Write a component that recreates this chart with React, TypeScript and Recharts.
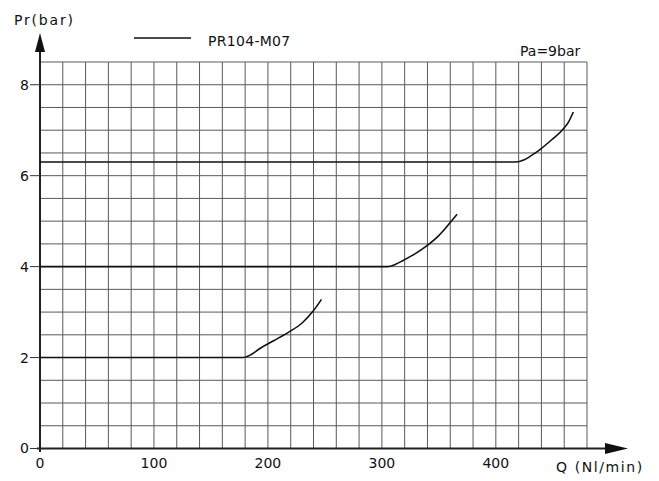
import React from "react";
import { LineChart, Line, XAxis, YAxis, CartesianGrid, Customized } from "recharts";

const xGridTicks = [0, 20, 40, 60, 80, 100, 120, 140, 160, 180, 200, 220, 240, 260, 280, 300, 320, 340, 360, 380, 400, 420, 440, 460, 480];
const xLabels = [0, 100, 200, 300, 400];
const yGridTicks = [0, 0.5, 1, 1.5, 2, 2.5, 3, 3.5, 4, 4.5, 5, 5.5, 6, 6.5, 7, 7.5, 8, 8.5];
const yLabels = [0, 2, 4, 6, 8];

const curve2bar = [
  { q: 0, p: 2 }, { q: 178, p: 2 }, { q: 185, p: 2.06 }, { q: 193, p: 2.2 }, { q: 205, p: 2.37 },
  { q: 219, p: 2.57 }, { q: 230, p: 2.76 }, { q: 239, p: 3.0 }, { q: 247, p: 3.28 },
];
const curve4bar = [
  { q: 0, p: 4 }, { q: 305, p: 4 }, { q: 312, p: 4.05 }, { q: 319, p: 4.14 }, { q: 329, p: 4.28 },
  { q: 339, p: 4.45 }, { q: 349, p: 4.66 }, { q: 358, p: 4.91 }, { q: 366, p: 5.15 },
];
const curve63bar = [
  { q: 0, p: 6.3 }, { q: 417, p: 6.3 }, { q: 425, p: 6.35 }, { q: 431, p: 6.44 }, { q: 439, p: 6.58 },
  { q: 449, p: 6.79 }, { q: 459, p: 7.02 }, { q: 464, p: 7.19 }, { q: 468, p: 7.4 },
];

const seriesName = "PR104-M07";
const FONT = "DejaVu Sans";

const XTick = (props: any) => {
  const { x, y, payload } = props;
  if (!xLabels.includes(payload.value)) return null;
  return (
    <text x={x} y={y + 2} dy="0.71em" textAnchor="middle" fontFamily={FONT} fontSize={14} fill="#111">
      {payload.value}
    </text>
  );
};

const YTick = (props: any) => {
  const { y, payload } = props;
  if (!yLabels.includes(payload.value)) return null;
  return (
    <g>
      <line x1={30} x2={40} y1={y} y2={y} stroke="#333" strokeWidth={1} />
      <text x={29} y={y} dy="0.355em" textAnchor="end" fontFamily={FONT} fontSize={14} fill="#111">
        {payload.value}
      </text>
    </g>
  );
};

const Decorations = () => (
  <g>
    <line x1={40} x2={40} y1={452} y2={50} stroke="#222" strokeWidth={2} />
    <polygon points="40,33 35,52 45,52" fill="#111" />
    <line x1={37} x2={610} y1={448.5} y2={448.5} stroke="#222" strokeWidth={2} />
    <polygon points="628,448.5 605,443 605,454" fill="#111" />
    <text x={14} y={25} fontFamily={FONT} fontSize={14} letterSpacing={1.8} fill="#111">Pr(bar)</text>
    <line x1={134} x2={191} y1={38} y2={38} stroke="#111" strokeWidth={1.6} />
    <text x={208} y={46} fontFamily={FONT} fontSize={14} letterSpacing={0.3} fill="#111">{seriesName}</text>
    <text x={520} y={56} fontFamily={FONT} fontSize={14} letterSpacing={0} fill="#111">Pa=9bar</text>
    <text x={556} y={472} fontFamily={FONT} fontSize={14} letterSpacing={1.6} fill="#111">Q (Nl/min)</text>
  </g>
);

export default function App() {
  return (
    <div style={{ position: "absolute", left: 0, top: 0 }}>
      <LineChart width={659} height={481} margin={{ top: 62, right: 72, bottom: 8, left: 0 }}>
        <CartesianGrid stroke="#5a5a5a" strokeWidth={1} />
        <XAxis
          dataKey="q"
          type="number"
          domain={[0, 480]}
          ticks={xGridTicks}
          height={24.5}
          axisLine={false}
          tickLine={false}
          tick={<XTick />}
          interval={0}
          allowDuplicatedCategory={false}
        />
        <YAxis
          dataKey="p"
          type="number"
          domain={[0, 8.5]}
          ticks={yGridTicks}
          width={40}
          axisLine={false}
          tickLine={false}
          tick={<YTick />}
          interval={0}
        />
        <Line data={curve2bar} dataKey="p" type="monotone" stroke="#111" strokeWidth={1.6} dot={false} isAnimationActive={false} name={seriesName} />
        <Line data={curve4bar} dataKey="p" type="monotone" stroke="#111" strokeWidth={1.6} dot={false} isAnimationActive={false} name={seriesName} />
        <Line data={curve63bar} dataKey="p" type="monotone" stroke="#111" strokeWidth={1.6} dot={false} isAnimationActive={false} name={seriesName} />
        <Customized component={<Decorations />} />
      </LineChart>
    </div>
  );
}
